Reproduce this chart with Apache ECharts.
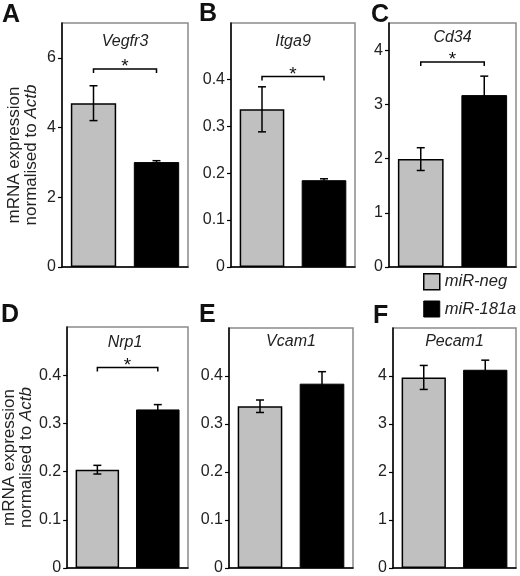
<!DOCTYPE html>
<html lang="en">
<head>
<meta charset="utf-8">
<title>miR-181a target expression</title>
<script src="https://cdn.jsdelivr.net/npm/echarts@6/dist/echarts.min.js"></script>
<style>
html, body { margin: 0; padding: 0; background: #fff; }
#main { width: 520px; height: 576px; }
</style>
</head>
<body>
<div id="main"></div>
<script>
// values
var groups = ['miR-neg', 'miR-181a'];
var genes = ['Vegfr3', 'Itga9', 'Cd34', 'Nrp1', 'Vcam1', 'Pecam1'];
var letters = ['A', 'B', 'C', 'D', 'E', 'F'];
var negMean = [4.70, 0.336, 1.99, 0.204, 0.337, 3.97];
var negErr = [0.50, 0.048, 0.21, 0.009, 0.013, 0.25];
var mirMean = [3.01, 0.185, 3.17, 0.329, 0.384, 4.13];
var mirErr = [0.04, 0.003, 0.35, 0.010, 0.025, 0.20];
var sigY = [5.68, 0.406, 3.78, 0.416, null, null];
var yMax = [7, 0.52, 4.5, 0.5, 0.5, 5];
var yTicks = [
	[0, 2, 4, 6],
	[0, 0.1, 0.2, 0.3, 0.4],
	[0, 1, 2, 3, 4],
	[0, 0.1, 0.2, 0.3, 0.4],
	[0, 0.1, 0.2, 0.3, 0.4],
	[0, 1, 2, 3, 4]
];

var FONT = '"Liberation Sans", Arial, Helvetica, sans-serif';
var boxes = [
	{ left: 62, top: 23, width: 126, height: 244 },
	{ left: 231, top: 23, width: 124, height: 244 },
	{ left: 389, top: 23, width: 127, height: 244 },
	{ left: 62, top: 327, width: 126, height: 243 },
	{ left: 229, top: 328, width: 124, height: 242 },
	{ left: 393, top: 328, width: 123, height: 243 }
];
var titleY = [42, 42, 38, 343, 342, 342];
var letterPos = [[2, 15], [199, 14], [371, 15], [1, 315], [199, 315], [373, 316]];

var grid = [], xAxis = [], yAxis = [], series = [], graphic = [];

function errorBars(params, api) {
	var x = api.value(0), m = api.value(1), e = api.value(2);
	var top = api.coord([x, m + e]);
	var bot = api.coord([x, m - e]);
	var w = 4;
	var st = { stroke: '#000', lineWidth: 1.5 };
	return {
		type: 'group',
		children: [
			{ type: 'line', shape: { x1: top[0], y1: top[1], x2: bot[0], y2: bot[1] }, style: st },
			{ type: 'line', shape: { x1: top[0] - w, y1: top[1], x2: top[0] + w, y2: top[1] }, style: st },
			{ type: 'line', shape: { x1: bot[0] - w, y1: bot[1], x2: bot[0] + w, y2: bot[1] }, style: st }
		]
	};
}

function bracket(params, api) {
	var a = api.coord([api.value(0), api.value(2)]);
	var b = api.coord([api.value(1), api.value(2)]);
	return {
		type: 'group',
		children: [
			{
				type: 'polyline',
				shape: { points: [[a[0], a[1] + 4], [a[0], a[1]], [b[0], b[1]], [b[0], b[1] + 4]] },
				style: { stroke: '#000', lineWidth: 1.5, fill: null }
			},
			{
				type: 'text',
				x: (a[0] + b[0]) / 2,
				y: a[1] - 2,
				style: { text: '*', font: '19px ' + FONT, fill: '#111', align: 'center', verticalAlign: 'middle' }
			}
		]
	};
}

for (var i = 0; i < genes.length; i++) {
	var bx = boxes[i];
	grid.push({
		left: bx.left, top: bx.top, width: bx.width, height: bx.height,
		show: true, borderColor: '#8a8a8a', borderWidth: 1.5, backgroundColor: 'transparent'
	});
	xAxis.push({
		type: 'category', gridIndex: i, data: groups,
		axisLine: { show: true, lineStyle: { color: '#000', width: 1.5 } },
		axisTick: { show: false }, axisLabel: { show: false }, splitLine: { show: false }
	});
	var ya = {
		type: 'value', gridIndex: i, min: 0, max: yMax[i],
		axisLine: { show: true, lineStyle: { color: '#000', width: 1.5 } },
		axisTick: { show: true, length: 4, lineStyle: { color: '#000', width: 1.2 }, customValues: yTicks[i] },
		axisLabel: {
			customValues: yTicks[i], margin: 6, color: '#222', fontSize: 16, fontFamily: FONT,
			formatter: function (v) { return String(v); }
		},
		splitLine: { show: false }
	};
	if (i === 0 || i === 3) {
		ya.name = '{n|mRNA expression}\n{n|normalised to }{i|Actb}';
		ya.nameLocation = 'middle';
		ya.nameRotate = 90;
		ya.nameGap = 22;
		ya.nameTextStyle = {
			color: '#222', fontSize: 17, fontFamily: FONT, lineHeight: 17,
			padding: [0, 20, 0, 0],
			rich: {
				n: { fontSize: 17, fontFamily: FONT, color: '#222', lineHeight: 17 },
				i: { fontSize: 17, fontFamily: FONT, color: '#222', lineHeight: 17, fontStyle: 'italic' }
			}
		};
	}
	yAxis.push(ya);

	series.push({
		name: groups[0], type: 'bar', xAxisIndex: i, yAxisIndex: i, stack: 'p' + i,
		barCategoryGap: '28%',
		data: [negMean[i], '-'],
		itemStyle: { color: '#c0c0c0', borderColor: '#000', borderWidth: 1.5 }
	});
	series.push({
		name: groups[1], type: 'bar', xAxisIndex: i, yAxisIndex: i, stack: 'p' + i,
		barCategoryGap: '28%',
		data: ['-', mirMean[i]],
		itemStyle: { color: '#000', borderColor: '#000', borderWidth: 1 }
	});
	series.push({
		type: 'custom', xAxisIndex: i, yAxisIndex: i, z: 5,
		renderItem: errorBars,
		encode: { x: 0, y: 1 },
		data: [[0, negMean[i], negErr[i]], [1, mirMean[i], mirErr[i]]]
	});
	if (sigY[i] !== null) {
		series.push({
			type: 'custom', xAxisIndex: i, yAxisIndex: i, z: 5,
			renderItem: bracket,
			encode: { x: 0, y: 2 },
			data: [[0, 1, sigY[i]]]
		});
	}

	graphic.push({
		type: 'text', x: bx.left + bx.width / 2, y: titleY[i],
		style: { text: genes[i], font: 'italic 16px ' + FONT, fill: '#222', align: 'center', verticalAlign: 'middle' }
	});
	graphic.push({
		type: 'text', x: letterPos[i][0], y: letterPos[i][1],
		style: { text: letters[i], font: 'bold 25px ' + FONT, fill: '#111', align: 'left', verticalAlign: 'middle' }
	});
}

var option = {
	animation: false,
	backgroundColor: '#fff',
	grid: grid,
	xAxis: xAxis,
	yAxis: yAxis,
	legend: {
		orient: 'vertical', left: 423, top: 273, padding: 0,
		itemWidth: 16, itemHeight: 16, itemGap: 10,
		selectedMode: false, icon: 'rect',
		textStyle: { fontStyle: 'italic', fontSize: 16.5, fontFamily: FONT, color: '#222' },
		data: [
			{ name: groups[0], itemStyle: { color: '#c0c0c0', borderColor: '#000', borderWidth: 1.5 } },
			{ name: groups[1], itemStyle: { color: '#000', borderColor: '#000', borderWidth: 1 } }
		]
	},
	graphic: graphic,
	series: series
};

var myChart = echarts.init(document.getElementById('main'));
myChart.setOption(option);
</script>
</body>
</html>
